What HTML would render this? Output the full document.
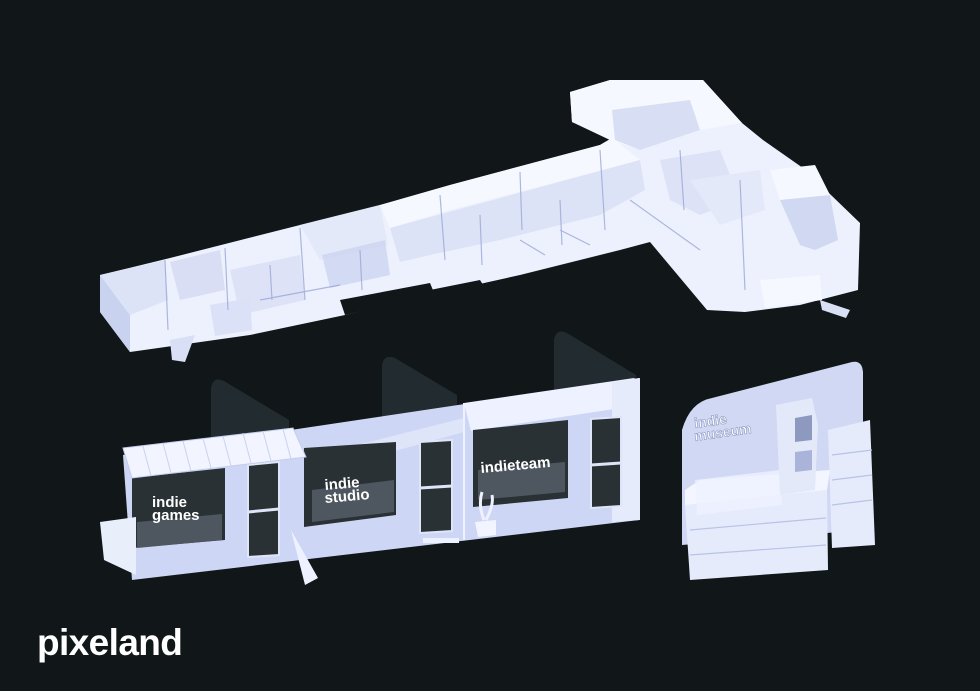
<!DOCTYPE html>
<html><head><meta charset="utf-8"><style>
html,body{margin:0;padding:0;background:#111618;}
svg{display:block}
text{font-family:"Liberation Sans",sans-serif;font-weight:bold;}
</style></head><body>
<svg width="980" height="691" viewBox="0 0 980 691" xmlns="http://www.w3.org/2000/svg">
<rect width="980" height="691" fill="#111618"/>
<!-- FLOOR PLAN -->
<g>
<polygon points="100,275 170,258 300,225 380,205 450,185 600,145 612,138 572,122 570,92 610,80 703,80 742,123 763,140 803,168 860,223 858,290 800,305 745,312 707,310 650,242 620,250 520,275 430,295 345,315 250,335 130,352 100,312" fill="#edf1fd"/>
<polygon points="100,275 100,312 130,352 130,315" fill="#c9d2ee"/>
<polygon points="100,275 165,260 168,300 130,315" fill="#dde3f7"/>
<polygon points="380,205 450,185 600,145 612,138 640,160 450,210 390,228" fill="#f6f8ff"/>
<polygon points="390,228 640,160 645,190 600,215 500,240 430,255 400,262" fill="#d6ddf4" opacity="0.7"/>
<polygon points="572,122 570,92 610,80 703,80 742,123 700,130 640,150 610,140" fill="#f6f8ff"/>
<polygon points="612,110 690,100 700,130 640,150 615,140" fill="#ccd4f0" opacity="0.7"/>
<polygon points="300,225 380,205 388,245 320,260" fill="#e4e9f9"/>
<polygon points="322,255 385,240 390,275 330,288" fill="#ccd4f0" opacity="0.8"/>
<polygon points="170,262 220,250 225,290 180,300" fill="#d3daf2" opacity="0.8"/>
<polygon points="230,270 300,255 305,300 240,315" fill="#d8def5" opacity="0.8"/>
<polygon points="210,305 250,298 252,330 215,336" fill="#dbe1f6"/>
<polygon points="770,170 815,165 830,195 800,205 780,200" fill="#f6f8ff"/>
<polygon points="780,200 830,195 838,240 815,250 800,245" fill="#d0d8f2"/>
<polygon points="660,160 720,150 740,200 700,215 670,200" fill="#d8def5" opacity="0.8"/>
<polygon points="690,180 760,170 765,210 720,225" fill="#e4e9f9"/>
<polygon points="760,280 820,275 822,300 765,308" fill="#f6f8ff"/>
<polygon points="345,315 340,300 430,283 435,295" fill="#111618"/>
<polygon points="420,292 480,280 485,288 425,298" fill="#111618"/>
<polygon points="170,340 195,335 185,362 172,360" fill="#d9dff5"/>
<polygon points="820,300 850,310 846,318 822,310" fill="#d9dff5"/>
<g stroke="#9aa8d6" stroke-width="1.2" fill="none" opacity="0.8">
<line x1="165" y1="260" x2="168" y2="330"/><line x1="225" y1="248" x2="228" y2="310"/>
<line x1="300" y1="228" x2="305" y2="300"/><line x1="440" y1="195" x2="445" y2="260"/>
<line x1="520" y1="172" x2="522" y2="230"/><line x1="600" y1="150" x2="605" y2="230"/>
<line x1="680" y1="150" x2="684" y2="210"/><line x1="740" y1="180" x2="745" y2="290"/>
<line x1="520" y1="240" x2="545" y2="255"/><line x1="560" y1="230" x2="590" y2="245"/>
<line x1="260" y1="300" x2="340" y2="285"/><line x1="630" y1="200" x2="700" y2="250"/>
<line x1="270" y1="265" x2="272" y2="300"/><line x1="360" y1="250" x2="362" y2="290"/>
<line x1="480" y1="215" x2="482" y2="265"/><line x1="560" y1="200" x2="562" y2="245"/>
</g>
</g>
<!-- STOREFRONT SHADOWS -->
<g fill="#222b2f">
<path d="M211,452 L211,388 Q213,376 224,381 L289,420 L289,445 Z"/>
<path d="M382,420 L382,365 Q384,354 395,358 L457,395 L457,410 Z"/>
<path d="M554,392 L554,340 Q556,328 567,333 L636,375 L636,385 Z"/>
</g>
<!-- STOREFRONT -->
<polygon points="123,455 639,378 639,520 132,580" fill="#cdd6f4"/>
<polygon points="464,403 634,378 640,385 640,405 471,431" fill="#eef1ff"/>
<polygon points="306,458 464,418 464,432 318,472" fill="#dfe5f8"/>
<polygon points="612,382 640,378 640,520 612,522" fill="#e6ebfc"/>
<line x1="464" y1="403" x2="464" y2="540" stroke="#eef1ff" stroke-width="2"/>
<!-- windows -->
<polygon points="132,478 225,468 225,540 132,548" fill="#2a3134"/>
<polygon points="304,448 396,442 396,515 304,527" fill="#2a3134"/>
<polygon points="473,430 568,420 568,498 473,507" fill="#2a3134"/>
<polygon points="248,465 279,462 279,555 248,557" fill="#2a3134" stroke="#dfe5f8" stroke-width="2"/>
<polygon points="420,442 452,440 452,531 420,533" fill="#2a3134" stroke="#dfe5f8" stroke-width="2"/>
<polygon points="591,419 621,417 621,506 591,508" fill="#2a3134" stroke="#dfe5f8" stroke-width="2"/>
<line x1="248" y1="512" x2="279" y2="509" stroke="#dfe5f8" stroke-width="3"/>
<line x1="420" y1="488" x2="452" y2="486" stroke="#dfe5f8" stroke-width="3"/>
<line x1="591" y1="465" x2="621" y2="463" stroke="#dfe5f8" stroke-width="3"/>
<polygon points="137,522 222,514 222,540 137,548" fill="#4e565f"/>
<polygon points="312,490 394,480 394,512 312,522" fill="#4e565f"/>
<polygon points="478,470 565,462 565,492 478,500" fill="#4e565f"/>
<!-- awning -->
<polygon points="123,448 293,428 306,457 132,478" fill="#f2f5ff" stroke="#c4cdec" stroke-width="1"/>
<g stroke="#c9d2ee" stroke-width="1">
<line x1="143" y1="446" x2="151" y2="476"/><line x1="163" y1="443" x2="171" y2="473"/>
<line x1="183" y1="441" x2="191" y2="471"/><line x1="203" y1="438" x2="211" y2="468"/>
<line x1="223" y1="436" x2="231" y2="466"/><line x1="243" y1="433" x2="251" y2="463"/>
<line x1="263" y1="431" x2="271" y2="461"/><line x1="283" y1="429" x2="291" y2="459"/>
</g>
<polygon points="100,522 136,517 136,575 104,560" fill="#e9eefb"/>
<polygon points="291,530 318,578 305,585" fill="#eef1ff"/>
<polygon points="475,522 496,520 496,535 478,537" fill="#f2f5ff"/>
<path d="M484,520 Q478,505 482,492 M486,520 Q494,505 492,495" stroke="#eef1ff" stroke-width="3" fill="none"/>
<rect x="423" y="538" width="36" height="5" fill="#eef1ff"/>
<text x="152" y="507" fill="#fff" font-size="15">indie</text>
<text x="152" y="520" fill="#fff" font-size="15">games</text>
<text x="325" y="490" fill="#fff" font-size="15" transform="rotate(-5 325 490)">indie</text>
<text x="325" y="503" fill="#fff" font-size="15" transform="rotate(-5 325 503)">studio</text>
<text x="481" y="473" fill="#fff" font-size="15" transform="rotate(-5 481 473)">indieteam</text>
<!-- MUSEUM -->
<path d="M682,480 L682,430 Q690,402 712,398 L852,362 Q862,360 863,372 L863,530 L682,545 Z" fill="#d0d8f4"/>
<polygon points="685,505 827,490 828,570 690,580" fill="#e6ebfc"/>
<polygon points="685,490 700,480 830,470 827,490 685,505" fill="#f4f6ff"/>
<polygon points="695,480 780,470 782,505 697,515" fill="#eef1ff" opacity="0.8"/>
<polygon points="776,405 812,398 818,425 815,490 780,495" fill="#e4e9fa"/>
<polygon points="795,418 812,415 812,440 795,442" fill="#8e99c0"/>
<polygon points="795,452 812,450 812,470 795,472" fill="#aab4da"/>
<polygon points="828,430 870,420 875,545 832,548" fill="#e6ebfc"/>
<g stroke="#b8c3e6" stroke-width="1.2"><line x1="832" y1="455" x2="872" y2="450"/><line x1="832" y1="480" x2="872" y2="475"/><line x1="832" y1="505" x2="872" y2="500"/><line x1="690" y1="530" x2="826" y2="518"/><line x1="690" y1="555" x2="826" y2="545"/></g>
<text x="695" y="428" fill="#f8faff" font-size="14" transform="rotate(-8 695 428)" stroke="#8e99c0" stroke-width="0.6">indie</text>
<text x="695" y="441" fill="#f8faff" font-size="14" transform="rotate(-8 695 441)" stroke="#8e99c0" stroke-width="0.6">museum</text>
<!-- LOGO -->
<text x="37" y="655" fill="#fff" font-size="37" letter-spacing="-0.6">pixeland</text>
</svg>
</body></html>
